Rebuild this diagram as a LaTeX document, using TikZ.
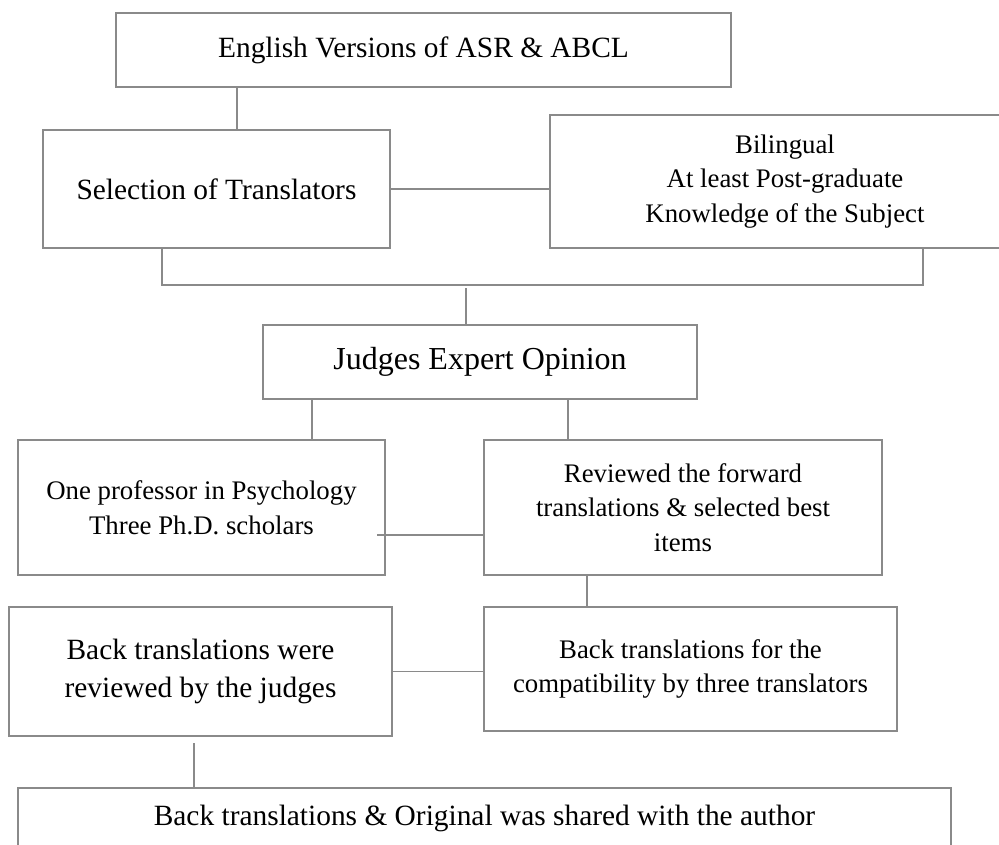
\documentclass[tikz,border=0pt]{standalone}
\usepackage{fontspec}
\setmainfont{Liberation Serif}
\usepackage{xcolor}
\usepackage{tikz}
\usetikzlibrary{positioning}
\definecolor{linegray}{HTML}{8A8A8A}

\begin{document}
\begin{tikzpicture}[
  x=1pt,y=-1pt,
  box/.style={draw=linegray,line width=1.5pt,align=center,inner sep=0pt,outer sep=0pt},
  sm/.style={font=\fontsize{26.8}{34.5}\selectfont},
  md/.style={font=\fontsize{29.4}{38}\selectfont},
  lg/.style={font=\fontsize{32}{38}\selectfont},
  ln/.style={draw=linegray,line width=1.5pt},
]
\useasboundingbox (0,0) rectangle (999,844);
\clip (0,0) rectangle (999,844);
\node[box,md,minimum width=615pt,minimum height=74pt] (eng) at (423.5,50) {English Versions of ASR \& ABCL};
\node[box,md,minimum width=347pt,minimum height=118pt] (sel) at (216.5,189) {Selection of Translators};
\node[box,sm,minimum width=470pt,minimum height=133pt] (bil) at (785,181.5) {Bilingual\\At least Post-graduate\\Knowledge of the Subject};
\node[box,lg,minimum width=434pt,minimum height=74pt] (jud) at (480,362) {Judges Expert Opinion};
\node[box,sm,minimum width=367pt,minimum height=135pt] (prof) at (201.5,507.5) {One professor in Psychology\\Three Ph.D. scholars};
\node[box,sm,minimum width=398pt,minimum height=135pt] (rev) at (683,507.5) {Reviewed the forward\\translations \& selected best\\items};
\node[box,md,minimum width=383pt,minimum height=129pt] (bkrev) at (200.5,671.5) {Back translations were\\reviewed by the judges};
\node[box,sm,minimum width=413pt,minimum height=124pt] (bkcomp) at (690.5,669) {Back translations for the\\compatibility by three translators};
\node[box,md,minimum width=933pt,minimum height=60pt] (shared) at (484.5,818) {Back translations \& Original was shared with the author};
\coordinate (brk) at (466,285);
\draw[ln] ([xshift=20.5pt]sel.north) -- ([xshift=20.5pt]sel.north |- eng.south);
\draw[ln] (sel.east) -- (sel.east -| bil.west);
\draw[ln] ([xshift=-54.5pt]sel.south) |- (brk) -| ([xshift=138pt]bil.south);
\draw[ln,shorten <=3pt] (brk) -- (jud.north -| brk);
\draw[ln] ([xshift=110.5pt]prof.north) -- ([xshift=110.5pt]prof.north |- jud.south);
\draw[ln] ([xshift=-115pt]rev.north) -- ([xshift=-115pt]rev.north |- jud.south);
\draw[ln] ([yshift=-27.5pt,xshift=-8pt]prof.east) -- ([yshift=-27.5pt]prof.east -| rev.west);
\draw[ln] ([xshift=-96pt]rev.south) -- ([xshift=-96pt]rev.south |- bkcomp.north);
\draw[ln] (bkrev.east) -- (bkrev.east -| bkcomp.west);
\draw[ln,shorten <=7pt] ([xshift=-6.5pt]bkrev.south) -- ([xshift=-6.5pt]bkrev.south |- shared.north);
\end{tikzpicture}
\end{document}
